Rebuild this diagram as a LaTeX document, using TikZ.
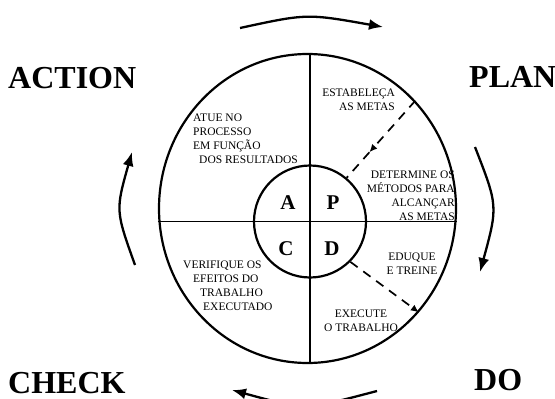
\documentclass[tikz,border=0pt]{standalone}
\usepackage{fontspec}
\setmainfont{Liberation Serif}
\usetikzlibrary{shapes.geometric,arrows.meta,calc}
\begin{document}
\begin{tikzpicture}[x=1pt,y=-1pt,
  small/.style={font=\fontsize{11.5}{14}\selectfont, inner sep=0pt},
  big/.style={font=\fontsize{32}{32}\selectfont\bfseries, inner sep=0pt, anchor=base west},
  letter/.style={font=\fontsize{21}{21}\selectfont\bfseries, inner sep=0pt},
  cyc/.style={line width=2.3pt, -{Latex[length=14pt,width=11pt]}},
  dsh/.style={line width=1.7pt, dash pattern=on 9pt off 7pt},
  ring/.style={draw, line width=2.2pt, inner sep=0pt}]
\useasboundingbox (0,0) rectangle (555,399);
\clip (0,0) rectangle (555,399);
\fill[white] (0,0) rectangle (555,399);

% circles
\node[ring, ellipse, minimum width=297pt, minimum height=309pt] (outer) at (307.5,208.5) {};
\node[ring, circle, minimum size=112pt] (inner) at (310,221.5) {};

% cross
\draw[line width=1.6pt] (outer.north -| inner.center) -- (outer.south -| inner.center);
\draw[line width=1.6pt] (outer.west |- inner.center) -- (outer.east |- inner.center);

% letters
\node[letter] (la) at (288,203) {A};
\node[letter] (lp) at (333,203) {P};
\node[letter] (lc) at (286,249) {C};
\node[letter] (ld) at (332,249) {D};

% quadrant texts
\node[small, align=right, anchor=north east] (t1) at (395,88.5) {ESTABELEÇA\\AS METAS};
\node[small, align=left, anchor=north west] (t2) at (193,113.5) {ATUE NO\\PROCESSO\\EM FUNÇÃO\\\hspace*{6pt}DOS RESULTADOS};
\node[small, align=right, anchor=north east] (t3) at (455,171) {DETERMINE OS\\MÉTODOS PARA\\ALCANÇAR\\AS METAS};
\node[small, align=center, anchor=north] (t4) at (412,253) {EDUQUE\\E TREINE};
\node[small, align=center, anchor=north] (t5) at (361,310) {EXECUTE\\O TRABALHO};
\node[small, align=left, anchor=north west] (t6) at (183,261) {VERIFIQUE OS\\\hspace*{10pt}EFEITOS DO\\\hspace*{17pt}TRABALHO\\\hspace*{20pt}EXECUTADO};

% dashed connectors
\coordinate (m) at ($(outer.45)!0.67!(inner.50)$);
\draw[dsh, -{Latex[length=8pt,width=7pt]}] (outer.45) -- (m);
\draw[dsh] (m) -- (inner.50);
\draw[dsh, -{Latex[length=8pt,width=7pt]}] (inner.-45) -- (outer.-43);

% big labels
\node[big] (action) at (8,88) {ACTION};
\node[big] (plan) at (469,87) {PLAN};
\node[big] (check) at (8,393) {CHECK};
\node[big] (do) at (474,390) {DO};

% cycle arrows
\coordinate (ts) at (240,28);  \coordinate (te) at (383,27);
\coordinate (rs) at (475,147); \coordinate (re) at (480,272);
\coordinate (bs) at (377,391); \coordinate (be) at (232,390);
\coordinate (ls) at (135,265); \coordinate (le) at (132,152);
\draw[cyc] (ts) .. controls (307,13.5) .. (te);
\draw[cyc] (rs) .. controls (498,206) .. (re);
\draw[cyc] (bs) .. controls (305,410) .. (be);
\draw[cyc] (ls) .. controls (115.5,210.5) .. (le);
\end{tikzpicture}
\end{document}
